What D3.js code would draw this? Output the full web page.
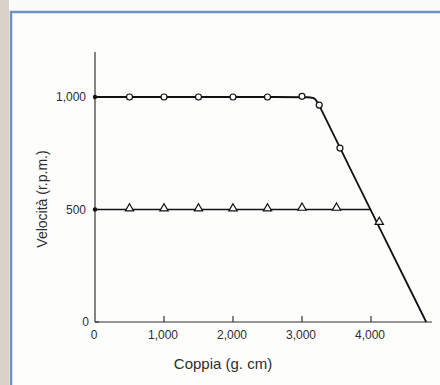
<!DOCTYPE html>
<html>
<head>
<meta charset="utf-8">
<script src="https://cdn.jsdelivr.net/npm/d3@7"></script>
<style>
  body { margin: 0; background: #fbfbf9; }
  text { font-family: "Liberation Sans", Arial, sans-serif; fill: #2e2e2e; }
</style>
</head>
<body>
<div id="chart"></div>
<script>
// values
var xTicks = [0, 1000, 2000, 3000, 4000];
var yTicks = [0, 500, 1000];
// upper curve (circles): knots of the drawn line
var highLineX = [0, 3100, 3190, 3280, 3550, 4800];
var highLineY = [1000, 1000, 1000, 944, 773, 0];
// upper curve markers
var highX = [500, 1000, 1500, 2000, 2500, 3000, 3250, 3550];
var highY = [1000, 1000, 1000, 1000, 1000, 1003, 964, 773];
// lower curve (triangles)
var lowLineX = [0, 3990];
var lowLineY = [500, 500];
var lowX = [500, 1000, 1500, 2000, 2500, 3000, 3500, 4120];
var lowY = [500, 500, 500, 500, 500, 503, 503, 440];

var W = 440, H = 385;
var svg = d3.select("#chart").append("svg")
    .attr("width", W).attr("height", H);

//frame of the scan
svg.append("rect").attr("x", 0).attr("y", 0).attr("width", 9).attr("height", H)
    .style("fill", "#d9d2c9");
svg.append("rect").attr("x", 11).attr("y", 12).attr("width", W).attr("height", H)
    .style("fill", "#fdfdfc");
svg.append("path").attr("d", "M11," + H + "V12H" + W)
    .style("fill", "none").style("stroke", "#6e92c4").style("stroke-width", 2.5);

var x = d3.scaleLinear().domain([0, 4000]).range([95, 371]);
var y = d3.scaleLinear().domain([0, 1000]).range([322, 97]);

//axes
var ink = "#333";
svg.append("line").attr("x1", x(0)).attr("x2", 432).attr("y1", y(0)).attr("y2", y(0))
    .style("stroke", ink).style("stroke-width", 1.2);
svg.append("line").attr("x1", x(0)).attr("x2", x(0)).attr("y1", y(0)).attr("y2", y(1200))
    .style("stroke", ink).style("stroke-width", 1.2);

svg.selectAll(".xtick").data(xTicks.slice(1)).enter().append("line")
    .attr("x1", function(d){ return x(d); }).attr("x2", function(d){ return x(d); })
    .attr("y1", y(0)).attr("y2", y(0) - 6)
    .style("stroke", ink).style("stroke-width", 1.2);
svg.selectAll(".ytick").data(yTicks).enter().append("line")
    .attr("x1", x(0)).attr("x2", x(0) + 4)
    .attr("y1", function(d){ return y(d); }).attr("y2", function(d){ return y(d); })
    .style("stroke", ink).style("stroke-width", 1.2);

var fmt = d3.format(",");
svg.selectAll(".xlab").data(xTicks).enter().append("text")
    .attr("x", function(d){ return x(d) - 1; }).attr("y", 339)
    .attr("text-anchor", "middle").style("font-size", "12px")
    .text(function(d){ return fmt(d); });
svg.selectAll(".ylab").data(yTicks).enter().append("text")
    .attr("x", function(d){ return d === 0 ? 89 : 86; })
    .attr("y", function(d){ return y(d) + 4; })
    .attr("text-anchor", "end").style("font-size", "12px")
    .text(function(d){ return fmt(d); });

svg.append("text").attr("x", 223).attr("y", 369).attr("text-anchor", "middle")
    .style("font-size", "15px").text("Coppia (g. cm)");
svg.append("text").attr("transform", "translate(47,199) rotate(-90)")
    .attr("text-anchor", "middle").style("font-size", "14px").text("Velocità (r.p.m.)");

//curves
var line = d3.line()
    .x(function(d){ return x(d[0]); })
    .y(function(d){ return y(d[1]); });
var zip = function(a, b){ return a.map(function(v, i){ return [v, b[i]]; }); };

svg.append("path").datum(zip(highLineX, highLineY)).attr("d", line.curve(d3.curveBasis))
    .style("fill", "none").style("stroke", "#111").style("stroke-width", 1.8);
svg.append("path").datum(zip(lowLineX, lowLineY)).attr("d", line.curve(d3.curveLinear))
    .style("fill", "none").style("stroke", "#111").style("stroke-width", 1.6);

//dark stubs at the y axis
svg.selectAll(".stub").data([1000, 500]).enter().append("circle")
    .attr("cx", x(0)).attr("cy", function(d){ return y(d); }).attr("r", 2.2)
    .style("fill", "#111");

svg.selectAll(".circ").data(zip(highX, highY)).enter().append("circle")
    .attr("cx", function(d){ return x(d[0]); }).attr("cy", function(d){ return y(d[1]); })
    .attr("r", 3).style("fill", "#fff").style("stroke", "#111").style("stroke-width", 1.2);

var tri = d3.symbol().type(d3.symbolTriangle).size(30);
svg.selectAll(".tri").data(zip(lowX, lowY)).enter().append("path")
    .attr("d", tri)
    .attr("transform", function(d){ return "translate(" + x(d[0]) + "," + (y(d[1]) - 1) + ")"; })
    .style("fill", "#fff").style("stroke", "#111").style("stroke-width", 1.2);
</script>
</body>
</html>
